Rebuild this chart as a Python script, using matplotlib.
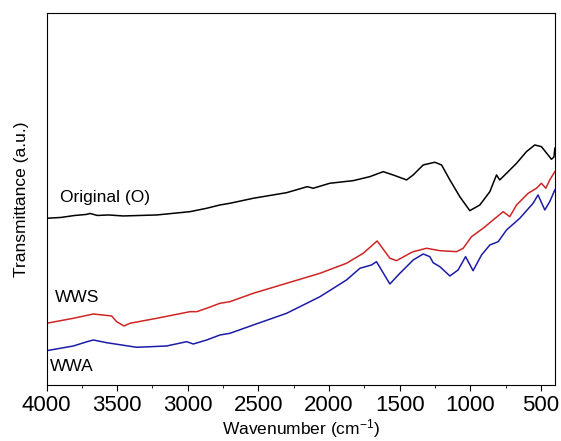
import matplotlib
matplotlib.use("Agg")
import matplotlib.pyplot as plt
from matplotlib.ticker import MultipleLocator

plt.rcParams['font.family'] = ['Liberation Sans', 'DejaVu Sans']
plt.rcParams['mathtext.default'] = 'regular'

# FTIR spectra, values (arbitrary units)
black_wn = [4000, 3900, 3800, 3720, 3692, 3640, 3560, 3457, 3220, 2984, 2866, 2772, 2701,
            2536, 2300, 2154, 2112, 1994, 1829, 1711, 1616, 1546, 1463, 1451, 1404, 1333,
            1251, 1203, 1144, 1074, 1003, 932, 861, 814, 791, 743, 672, 602, 543, 496,
            449, 425, 407, 401]
black_t = [166.7, 167.5, 169.5, 170.5, 171.5, 169.5, 170, 169, 170, 173.3, 176.7, 180, 181.7,
           186.7, 192.3, 198.3, 196.7, 201.7, 204.3, 208.3, 213.3, 210, 205.7, 205, 210, 220,
           222.7, 220, 205, 188.3, 174.3, 180, 193.3, 210, 205, 211.7, 221.7, 233.3, 240, 238.3,
           230, 225.7, 228, 236.7]

red_wn = [4000, 3810, 3669, 3539, 3504, 3452, 3409, 3220, 2984, 2937, 2866, 2772, 2701,
          2536, 2300, 2064, 1876, 1758, 1659, 1569, 1522, 1427, 1404, 1309, 1215, 1097,
          1050, 991, 909, 838, 767, 720, 672, 590, 531, 496, 465, 437, 401]
red_t = [61.7, 66.7, 71, 69, 63.3, 59, 61.7, 66.7, 73.3, 73.3, 76.7, 81.7, 83.3,
         91.7, 101.7, 111.7, 121.7, 131.7, 144, 126.7, 124.3, 131.7, 133.3, 136.7, 134.3, 133.3,
         136.7, 148.3, 156.7, 165, 173.3, 168.3, 180, 191.7, 196.7, 201.7, 196.7, 205, 213.3]

blue_wn = [4000, 3810, 3720, 3669, 3575, 3362, 3150, 3008, 2961, 2866, 2772, 2701, 2536, 2300,
           2064, 1876, 1781, 1699, 1664, 1569, 1498, 1427, 1404, 1333, 1286, 1263, 1215,
           1144, 1086, 1033, 980, 920, 861, 802, 743, 649, 555, 520, 472, 437, 401]
blue_t = [34.3, 39, 43, 45, 42.3, 37.7, 39, 43.3, 41, 45, 50, 51.7, 60, 71.7,
          88.3, 105, 116.7, 120, 123.3, 101, 111.7, 121.7, 125, 131, 128.3, 122.3, 118.3,
          109, 115, 128.3, 114.3, 130, 140, 143.3, 155, 166.7, 181.7, 190, 175, 183.3, 195]

fig = plt.figure(figsize=(5.61, 4.41), dpi=100)
ax = fig.add_axes([0.083, 0.127, 0.907, 0.843])

ax.plot(black_wn, black_t, color='black', lw=1.1)
ax.plot(red_wn, red_t, color='#d02525', lw=1.1)
ax.plot(blue_wn, blue_t, color='#1c1ca8', lw=1.1)

ax.text(3904, 187, 'Original (O)', fontsize=12.5, va='center', ha='left')
ax.text(3940, 87, 'WWS', fontsize=12.5, va='center', ha='left')
ax.text(3975, 18, 'WWA', fontsize=12.5, va='center', ha='left')

ax.set_xlim(4000, 397)
ax.set_ylim(0, 371.7)
ax.xaxis.set_major_locator(MultipleLocator(500))
ax.xaxis.set_minor_locator(MultipleLocator(250))
ax.tick_params(axis='x', which='major', direction='out', length=4, pad=3, labelsize=16)
ax.tick_params(axis='x', which='minor', direction='out', length=2.2)
ax.set_yticks([])
ax.set_xlabel('Wavenumber (cm$^{-1}$)', fontsize=12.5, labelpad=1)
ax.set_ylabel('Transmittance (a.u.)', fontsize=12.5, labelpad=13)

fig.savefig('out.png', dpi=100)
